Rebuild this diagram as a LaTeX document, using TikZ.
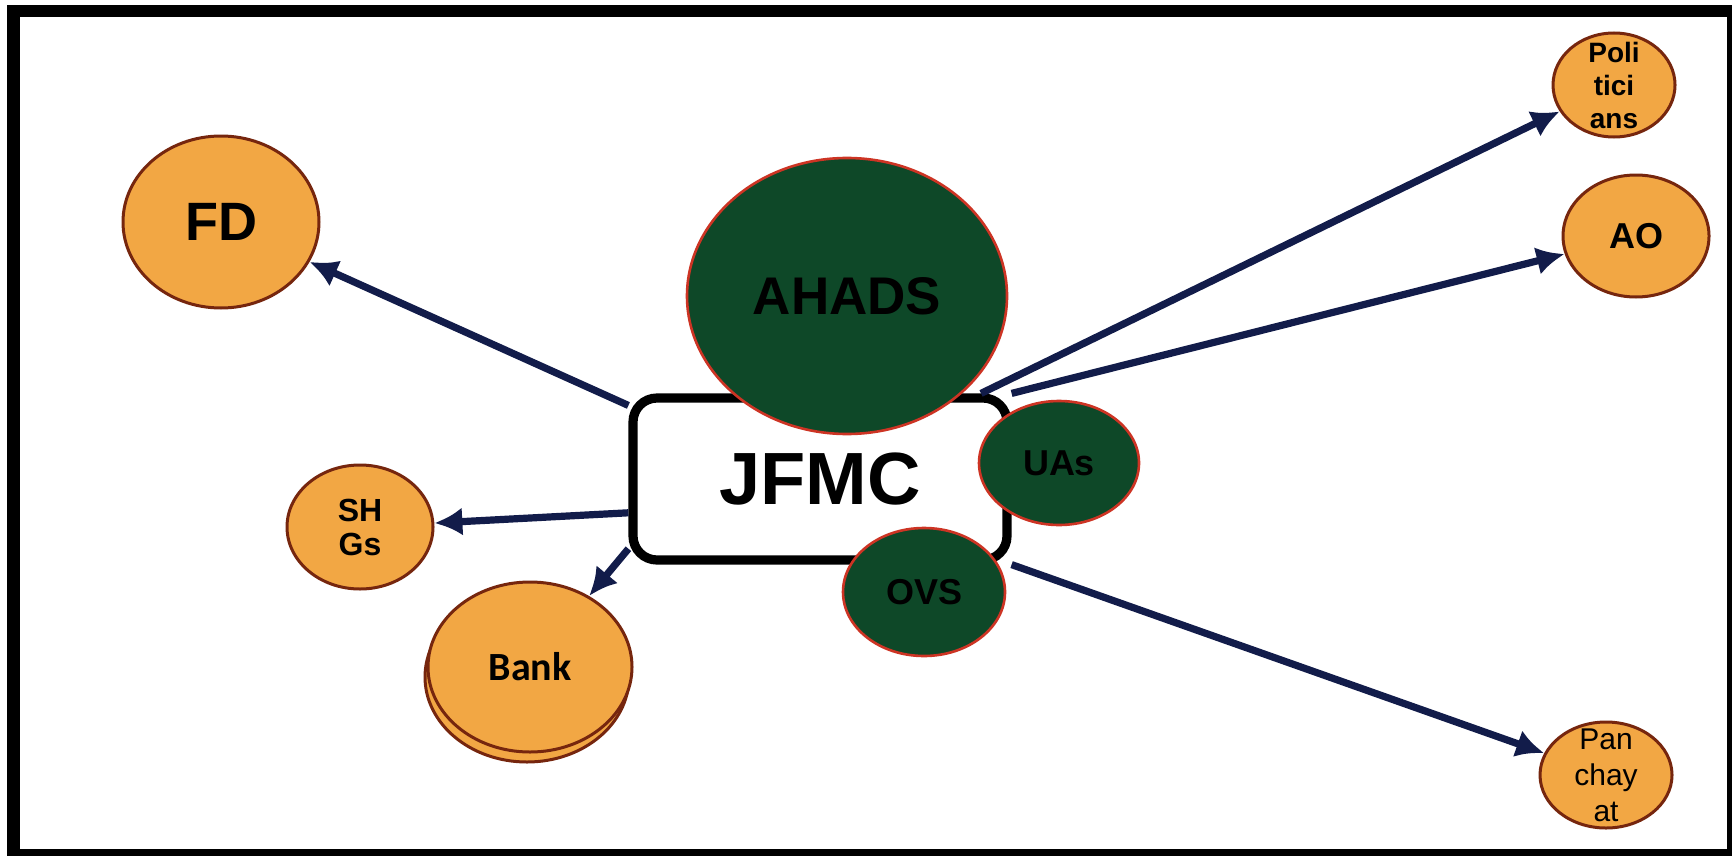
\documentclass[tikz,border=0pt]{standalone}
\usepackage{fontspec}
\setmainfont{Liberation Sans}
\newfontfamily\bankfont{Carlito}
\usetikzlibrary{shapes.geometric}
\usetikzlibrary{arrows.meta}

\definecolor{orangefill}{RGB}{242,167,68}
\definecolor{orangeline}{RGB}{118,38,14}
\definecolor{greenfill}{RGB}{14,72,40}
\definecolor{greenline}{RGB}{205,52,36}
\definecolor{arrowblue}{RGB}{18,28,74}

\begin{document}
\begin{tikzpicture}[x=0.5pt,y=-0.5pt,
        orangenode/.style={ellipse, draw=orangeline, line width=1.5pt, fill=orangefill, inner sep=0pt, align=center},
        greennode/.style={ellipse, draw=greenline, line width=1.3pt, fill=greenfill, inner sep=0pt, font=\bfseries},
        link/.style={draw=arrowblue, line width=3.6pt, -{Latex[length=14pt,width=14pt]}}]
        \useasboundingbox (0,0) rectangle (1732,856);
        \fill[black] (7,5) rectangle (1732,856);
        \fill[white] (20,17) rectangle (1727,849);

        % committee in the middle
        \node[draw, line width=4.6pt, rounded corners=12pt, fill=white, minimum width=187pt, minimum height=81pt,
            font=\fontsize{37}{40}\selectfont\bfseries] (jfmc) at (820,479) {JFMC};

        % outside bodies
        \node[orangenode, minimum width=98pt, minimum height=86pt, font=\fontsize{27}{30}\selectfont\bfseries] (fd) at (221,222) {FD};
        \node[orangenode, minimum width=73pt, minimum height=62pt, font=\fontsize{16}{17}\selectfont\bfseries] (shgs) at (360,527) {SH\\Gs};
        \node[orangenode, minimum width=102pt, minimum height=85pt] (bankback) at (527,677) {};
        \node[orangenode, minimum width=102pt, minimum height=85pt, font=\fontsize{20}{22}\selectfont\bankfont\bfseries] (bank) at (530,667) {Bank};
        \node[orangenode, minimum width=61pt, minimum height=52pt] (poli) at (1614,85) {};
        \node[font=\fontsize{14}{16.5}\selectfont\bfseries, align=center, inner sep=0pt] (politext) at (poli) {Poli\\tici\\ans};
        \node[orangenode, minimum width=73pt, minimum height=61pt, font=\fontsize{18}{20}\selectfont\bfseries] (ao) at (1636,236) {AO};
        \node[orangenode, minimum width=66pt, minimum height=53pt] (pan) at (1606,775) {};
        \node[font=\fontsize{15}{18}\selectfont, align=center, inner sep=0pt] (pantext) at (pan) {Pan\\chay\\at};

        % arrows
        \draw[link] (jfmc.159) -- (fd);
        \draw[link] (jfmc.190) -- (shgs);
        \draw[link] (jfmc.200) -- (bank);
        \draw[link] (jfmc.28) -- (poli);
        \draw[link] (jfmc.north east) -- (ao);
        \draw[link] (jfmc.south east) -- (pan);

        % partners round the box
        \node[greennode, minimum width=160pt, minimum height=138pt, font=\fontsize{26.5}{29}\selectfont\bfseries] (ahads) at (847,296) {AHADS};
        \node[greennode, minimum width=80pt, minimum height=62pt, font=\fontsize{18}{20}\selectfont\bfseries] (uas) at (1059,463) {UAs};
        \node[greennode, minimum width=81pt, minimum height=64pt, font=\fontsize{18}{20}\selectfont\bfseries] (ovs) at (924,592) {OVS};
\end{tikzpicture}
\end{document}
